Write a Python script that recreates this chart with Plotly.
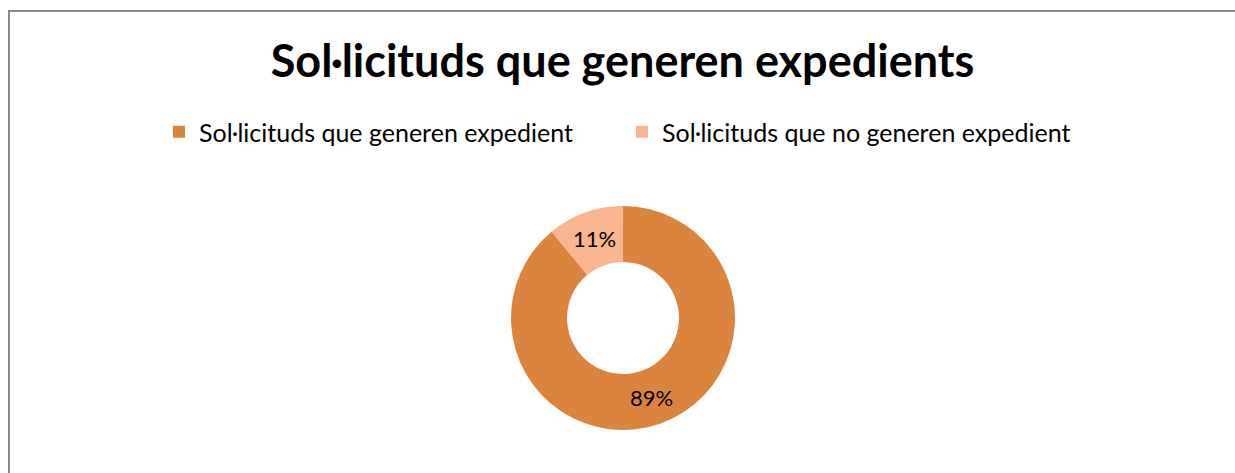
import plotly.graph_objects as go

labels = ["Sol·licituds que generen expedient", "Sol·licituds que no generen expedient"]
values = [89, 11]
colors = ["#DB843D", "#F9B590"]
title_text = "Sol·licituds que generen expedients"

W, H = 1235, 473
FONT = "Lato"

fig = go.Figure(go.Pie(
    labels=labels,
    values=values,
    sort=False,
    direction="clockwise",
    rotation=0,
    hole=0.5,
    marker=dict(colors=colors, line=dict(width=0)),
    textinfo="percent",
    texttemplate="%{percent:.0%}",
    textposition="inside",
    insidetextorientation="horizontal",
    textfont=dict(family=FONT, size=22, color="black"),
    domain=dict(x=[511 / W, 735 / W], y=[(H - 430) / H, (H - 206) / H]),
    hoverinfo="label+percent",
))

border = dict(color="#8A8A8A", width=2)
fig.update_layout(
    width=W, height=H,
    margin=dict(l=0, r=0, t=0, b=0),
    paper_bgcolor="white",
    plot_bgcolor="white",
    font=dict(family=FONT, color="black"),
    title=dict(
        text="<b>" + title_text + "</b>",
        x=622.5 / W, xanchor="center",
        y=1 - 61 / H, yanchor="middle",
        font=dict(family=FONT, size=45, color="black"),
    ),
    showlegend=True,
    legend=dict(
        orientation="h",
        x=622 / W, xanchor="center",
        y=1 - 132 / H, yanchor="middle",
        font=dict(family=FONT, size=25, color="black"),
        entrywidth=418, entrywidthmode="pixels",
        itemclick=False,
    ),
    shapes=[
        dict(type="line", xref="paper", yref="paper",
             x0=8 / W, x1=1.02, y0=1 - 11 / H, y1=1 - 11 / H, line=border),
        dict(type="line", xref="paper", yref="paper",
             x0=9 / W, x1=9 / W, y0=-0.02, y1=1 - 10 / H, line=border),
    ],
)

fig.write_html(
    "out.html",
    config={"displayModeBar": False},
    post_script="document.body.style.margin='0';document.body.style.overflow='hidden';",
)
